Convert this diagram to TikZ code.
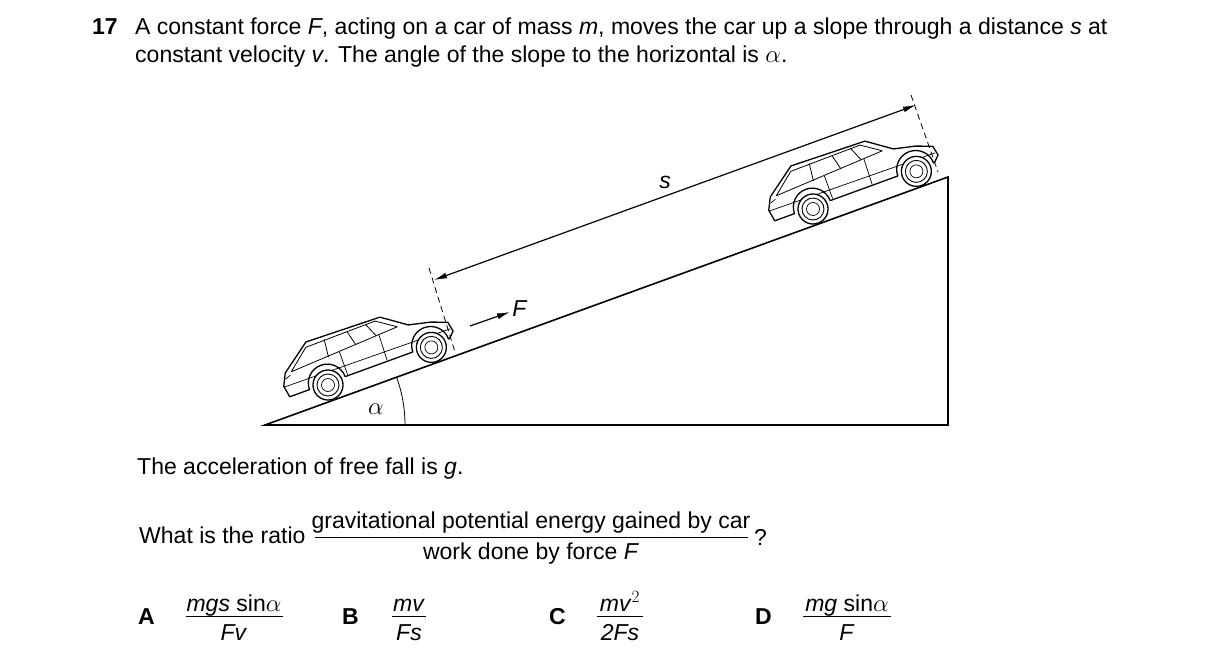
\documentclass[tikz,border=0pt]{standalone}
\usepackage{fontspec}
\setmainfont{Liberation Sans}
\usetikzlibrary{arrows.meta}
\begin{document}
\begin{tikzpicture}[x=1bp,y=-1bp,
  txt/.style={anchor=base west,inner sep=0pt,font=\fontsize{23.1}{26}\selectfont},
  ctr/.style={anchor=base,inner sep=0pt,font=\fontsize{23.1}{26}\selectfont},
  lbl/.style={inner sep=0pt,font=\fontsize{23.1}{26}\selectfont},
  ext/.style={dash pattern=on 6bp off 4bp,line width=0.8bp},
  carframe/.style={x={(0.9397bp,0.342bp)},y={(0.342bp,-0.9397bp)}},
  car/.pic={
    \draw[line width=1.3bp,line join=round,fill=white] (-40,-2) -- (-19,-2) arc[start angle=180,end angle=360,radius=19] -- (91,-2) arc[start angle=180,end angle=360,radius=19] -- (130,-2) -- (136,-8) -- (134,-18) -- (118,-24) -- (96,-29) -- (72,-46) -- (-6,-48) -- (-36,-26) -- (-42,-14) -- cycle;
    \draw[line width=0.8bp,line join=round] (-30,-25) -- (-8,-43) -- (66,-44) -- (85,-31) -- cycle;
    \draw[line width=0.8bp] (10,-26) -- (12,-44) (40,-28) -- (36,-44) (62,-30) -- (56,-44);
    \draw[line width=0.7bp] (-42,-13) -- (134,-11) (22,-3) -- (22,-27) (64,-3) -- (65,-30) (-38,-20) -- (-32,-22);
    \foreach \wx in {0,110}{
      \draw[line width=1.3bp,fill=white] (\wx,0) circle[radius=15];
      \draw[line width=0.9bp] (\wx,0) circle[radius=11];
      \draw[line width=0.7bp] (\wx,0) circle[radius=6.5];
    }
  }]
\path[fill=white] (0,0) rectangle (1216,664);
% question
\node[txt,font=\fontsize{23.1}{26}\selectfont\bfseries] (num) at (92,35) {17};
\node[txt] (q1) at (135,35) {A constant force \textit{F}, acting on a car of mass \textit{m}, moves the car up a slope through a distance \textit{s} at};
\node[txt] (q2) at (135,63) {constant velocity \textit{v}. The angle of the slope to the horizontal is $\alpha$.};
% slope
\coordinate (p0) at (265,425);
\coordinate (p1) at (948,425);
\coordinate (p2) at (948,177);
\draw[line width=1.6bp,line join=miter] (p0) -- (p1) -- (p2) -- cycle;
\draw[line width=0.8bp] (405,425) arc[start angle=0,end angle=-20,radius=140];
\node[lbl] (al) at (376,409) {$\alpha$};
% cars
\coordinate (c1) at (328,385);
\coordinate (c2) at (813,209);
\pic[carframe] at (c1) {car};
\pic[carframe] at (c2) {car};
% dimension
\coordinate (e1a) at (429,268); \coordinate (e1b) at (455,352);
\coordinate (e2a) at (911,95); \coordinate (e2b) at (938,172);
\draw[ext] (e1a) -- (e1b);
\draw[ext] (e2a) -- (e2b);
\coordinate (d1) at (434,280); \coordinate (d2) at (916,105);
\draw[line width=1.2bp,{Latex[length=13bp,width=6bp]}-{Latex[length=13bp,width=6bp]}] (d1) -- (d2);
\node[lbl] (s) at (665,182) {\textit{s}};
\coordinate (f1) at (470,326); \coordinate (f2) at (510,312);
\draw[line width=1.2bp,-{Latex[length=13bp,width=6bp]}] (f1) -- (f2);
\node[lbl] (F) at (520,309) {\textit{F}};
% lower text
\node[txt] (acc) at (137,474) {The acceleration of free fall is \textit{g}.};
\node[txt] (what) at (139,543) {What is the ratio};
\node[ctr] (num1) at (531,528) {gravitational potential energy gained by car};
\node[ctr] (den1) at (531,559) {work done by force \textit{F}};
\draw[line width=0.8bp] (315,537) -- (748,537);
\node[txt] (qm) at (754,545) {?};
% options
\node[txt,font=\fontsize{23.1}{26}\selectfont\bfseries] (A) at (138,624) {A};
\node[ctr] (An) at (234,611) {\textit{mgs} sin$\alpha$};
\node[ctr] (Ad) at (234,640) {\textit{Fv}};
\draw[line width=0.8bp] (186,616) -- (283,616);
\node[txt,font=\fontsize{23.1}{26}\selectfont\bfseries] (B) at (342,624) {B};
\node[ctr] (Bn) at (409,611) {\textit{mv}};
\node[ctr] (Bd) at (409,640) {\textit{Fs}};
\draw[line width=0.8bp] (392,616) -- (426,616);
\node[txt,font=\fontsize{23.1}{26}\selectfont\bfseries] (C) at (549,624) {C};
\node[ctr] (Cn) at (620,611) {\textit{mv}$^2$};
\node[ctr] (Cd) at (620,640) {\textit{2Fs}};
\draw[line width=0.8bp] (597,616) -- (643,616);
\node[txt,font=\fontsize{23.1}{26}\selectfont\bfseries] (D) at (755,624) {D};
\node[ctr] (Dn) at (847,611) {\textit{mg} sin$\alpha$};
\node[ctr] (Dd) at (847,640) {\textit{F}};
\draw[line width=0.8bp] (803,616) -- (891,616);
\end{tikzpicture}
\end{document}
